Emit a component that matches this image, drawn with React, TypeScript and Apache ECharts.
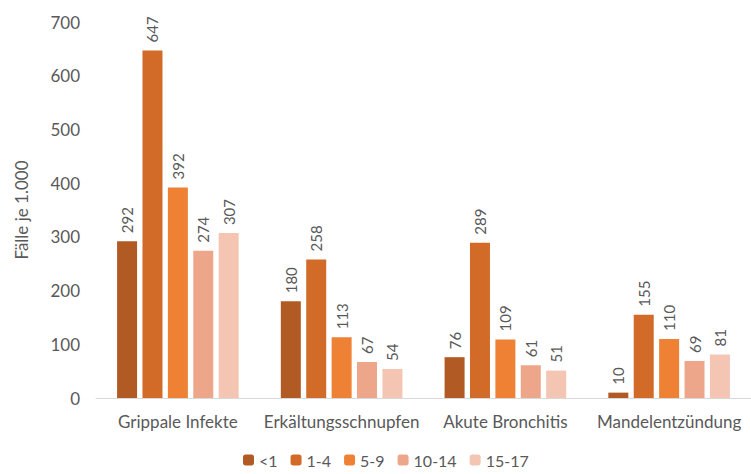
import React, { useEffect, useRef } from "react";
import * as echarts from "echarts";

const categories = ["Grippale Infekte", "Erkältungsschnupfen", "Akute Bronchitis", "Mandelentzündung"];
const seriesNames = ["<1", "1-4", "5-9", "10-14", "15-17"];
const values_lt1 = [292, 180, 76, 10];
const values_1_4 = [647, 258, 289, 155];
const values_5_9 = [392, 113, 109, 110];
const values_10_14 = [274, 67, 61, 69];
const values_15_17 = [307, 54, 51, 81];
const colors = ["#B15A24", "#D26A28", "#EE8134", "#EEA68A", "#F4C5B3"];

export default function App() {
  const ref = useRef<HTMLDivElement>(null);
  useEffect(() => {
    if (!ref.current) return;
    const chart = echarts.init(ref.current, undefined, { renderer: "svg" });
    const data = [values_lt1, values_1_4, values_5_9, values_10_14, values_15_17];
    const font = "Lato, 'Open Sans', sans-serif";
    chart.setOption({
      animation: false,
      textStyle: { fontFamily: font },
      grid: { left: 96, right: -7, top: 22, bottom: 76, containLabel: false },
      legend: {
        bottom: 1,
        left: 238,
        itemWidth: 11,
        itemHeight: 11,
        itemGap: 13,
        textStyle: { color: "#595959", fontSize: 16, fontFamily: font },
        data: seriesNames,
      },
      xAxis: {
        type: "category",
        data: categories,
        axisLine: { show: true, lineStyle: { color: "#D9D9D9", width: 1 } },
        axisTick: { show: false },
        axisLabel: { color: "#595959", fontSize: 17, margin: 15, interval: 0, fontFamily: font },
      },
      yAxis: {
        type: "value",
        min: 0,
        max: 700,
        interval: 100,
        name: "Fälle je 1.000",
        nameLocation: "middle",
        nameGap: 66,
        nameTextStyle: { color: "#595959", fontSize: 17, fontFamily: font },
        axisLine: { show: false },
        axisTick: { show: false },
        splitLine: { show: false },
        axisLabel: { color: "#595959", fontSize: 17, margin: 16, fontFamily: font },
      },
      series: seriesNames.map((name, i) => ({
        name,
        type: "bar",
        data: data[i],
        barWidth: 20,
        barGap: "27%",
        itemStyle: { color: colors[i] },
        label: {
          show: true,
          position: "top",
          rotate: 90,
          align: "left",
          verticalAlign: "middle",
          distance: 8,
          color: "#595959",
          fontSize: 15,
          fontFamily: font,
        },
      })),
    });
    return () => chart.dispose();
  }, []);
  return <div ref={ref} style={{ width: 751, height: 474, position: "absolute", left: 0, top: 0, background: "#fff" }} />;
}
